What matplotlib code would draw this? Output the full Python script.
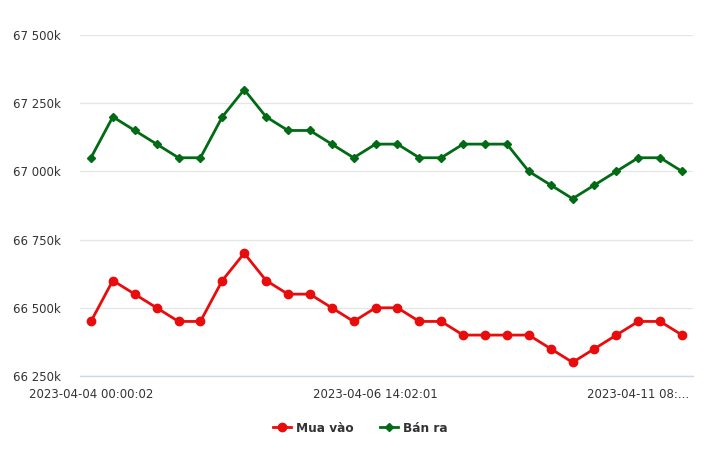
import matplotlib
matplotlib.use("Agg")
import matplotlib.pyplot as plt
from matplotlib.ticker import FuncFormatter

mua_vao = [66450, 66600, 66550, 66500, 66450, 66450, 66600, 66700, 66600, 66550,
           66550, 66500, 66450, 66500, 66500, 66450, 66450, 66400, 66400, 66400,
           66400, 66350, 66300, 66350, 66400, 66450, 66450, 66400]
ban_ra = [67050, 67200, 67150, 67100, 67050, 67050, 67200, 67300, 67200, 67150,
          67150, 67100, 67050, 67100, 67100, 67050, 67050, 67100, 67100, 67100,
          67000, 66950, 66900, 66950, 67000, 67050, 67050, 67000]
tick_positions = [0, 13, 25]
tick_labels = ["2023-04-04 00:00:02", "2023-04-06 14:02:01", "2023-04-11 08:..."]
y_ticks = [66250, 66500, 66750, 67000, 67250, 67500]

plt.rcParams['font.family'] = ['DejaVu Sans']

fig = plt.figure(figsize=(7.2, 4.54), dpi=100)
ax = fig.add_axes([80/720, 1 - 376/454, (693-80)/720, (376-35)/454])

x = list(range(len(mua_vao)))
red = '#e80c0c'
green = '#006b14'
ax.plot(x, mua_vao, color=red, lw=2, marker='o', markersize=6, label='Mua vào', zorder=3)
ax.plot(x, ban_ra, color=green, lw=2, marker='D', markersize=4.4, label='Bán ra', zorder=3)

ax.set_xlim(-0.5, len(x) - 0.5)
ax.set_ylim(66250, 67500)
ax.set_yticks(y_ticks)
ax.yaxis.set_major_formatter(FuncFormatter(lambda v, p: f"{int(v/1000)} {int(v%1000):03d}k"))
ax.set_xticks(tick_positions)
ax.set_xticklabels(tick_labels)

ax.grid(axis='y', color='#e6e6e6', lw=1)
ax.set_axisbelow(True)
for s in ['top', 'right', 'left']:
    ax.spines[s].set_visible(False)
ax.spines['bottom'].set_color('#ccd6eb')
ax.spines['bottom'].set_linewidth(1)
ax.tick_params(axis='y', length=0, pad=14, labelsize=8.5, labelcolor='#333333')
ax.tick_params(axis='x', length=0, pad=9, labelsize=8.5, labelcolor='#333333')

leg = fig.legend(loc='center', bbox_to_anchor=(360/720, 1 - 428/454), ncol=2, frameon=False,
                 prop={'weight': 'bold', 'size': 8.7}, handlelength=1.5, columnspacing=2.2,
                 handletextpad=0.4)
for t in leg.get_texts():
    t.set_color('#333333')

fig.savefig('out.png', dpi=100)
